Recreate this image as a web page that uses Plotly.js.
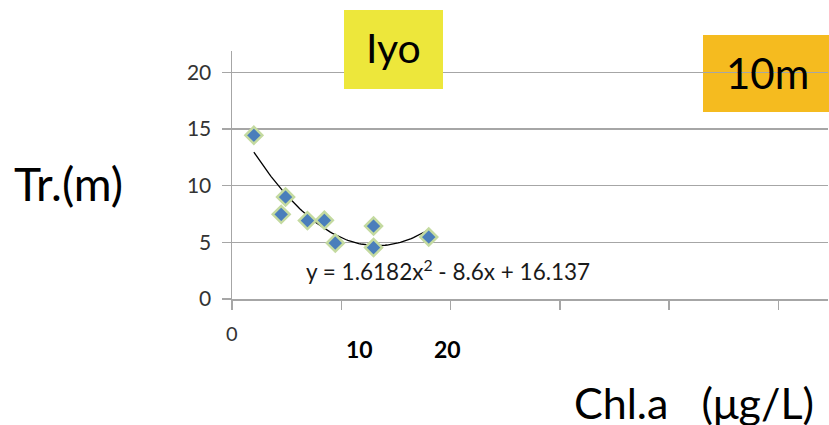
<!DOCTYPE html>
<html>
<head>
<meta charset="utf-8">
<script src="https://cdn.plot.ly/plotly-3.0.1.min.js"></script>
<style>html,body{margin:0;padding:0;background:#fff;}#chart{width:829px;height:425px;}</style>
</head>
<body>
<div id="chart"></div>
<script>
// Data
const chlX = [0.40, 0.90, 0.98, 1.38, 1.69, 1.89, 2.59, 2.59, 3.60];
const trY  = [14.45, 7.47, 9.0, 6.92, 6.95, 4.94, 6.44, 4.54, 5.47];
const trendCoef = [1.6182, -8.6, 16.137]; // y = a x^2 + b x + c
const trendRange = [0.40, 3.60];
const yTicks = [0, 5, 10, 15, 20];
const xTickVals = [0, 2, 4, 6, 8, 10];
const xLabels = ["0", "10", "20"];
const equationText = "y = 1.6182x<sup>2</sup> - 8.6x + 16.137";

// Trendline from the equation shown in the chart
const tx = [], ty = [];
const n = 80;
for (let i = 0; i <= n; i++) {
  const x = trendRange[0] + (trendRange[1] - trendRange[0]) * i / n;
  tx.push(x);
  ty.push(trendCoef[0] * x * x + trendCoef[1] * x + trendCoef[2]);
}

const traces = [
  {x: tx, y: ty, mode: 'lines', type: 'scatter', line: {color: '#000000', width: 1.3}, hoverinfo: 'skip'},
  {x: chlX, y: trY, mode: 'markers', type: 'scatter',
   marker: {symbol: 'diamond', size: 13, color: '#4a7ebb', line: {color: '#c4daa0', width: 2.5}}}
];

const F = 'Lato, Carlito, "Liberation Sans", sans-serif';
const layout = {
  width: 829, height: 425,
  margin: {l: 232, r: 1, t: 51, b: 126, pad: 0},
  paper_bgcolor: '#ffffff', plot_bgcolor: 'rgba(0,0,0,0)',
  showlegend: false,
  font: {family: F},
  xaxis: {range: [0, 10.906], tickvals: xTickVals, showticklabels: false,
    ticks: 'outside', ticklen: 9, tickcolor: '#a6a6a6', tickwidth: 1.5,
    showgrid: false, zeroline: false, showline: true, linecolor: '#a6a6a6', linewidth: 1.5},
  yaxis: {range: [0, 21.89], tickvals: yTicks, ticktext: yTicks.map(String),
    ticks: 'outside', ticklen: 9, tickcolor: '#a6a6a6', tickwidth: 1.5,
    ticklabelstandoff: 6,
    tickfont: {family: F, size: 21, color: '#333333'},
    showgrid: true, gridcolor: '#a6a6a6', gridwidth: 1.5, zeroline: false,
    showline: true, linecolor: '#a6a6a6', linewidth: 1.5},
  shapes: [
    {type: 'rect', xref: 'paper', yref: 'paper', layer: 'below',
     x0: (703-232)/596, x1: (829-232)/596, y0: (425-126-112)/248, y1: (425-126-35)/248,
     fillcolor: '#f5bb1f', line: {width: 0}},
    {type: 'rect', xref: 'paper', yref: 'paper', layer: 'above',
     x0: (344-232)/596, x1: (443-232)/596, y0: (425-126-89)/248, y1: (425-126-10)/248,
     fillcolor: '#ede73b', line: {width: 0}}
  ],
  annotations: [
    {text: 'Iyo', xref: 'paper', yref: 'paper', x: (393-232)/596, y: (299-47)/248,
     showarrow: false, xanchor: 'center', yanchor: 'middle', font: {family: F, size: 41, color: '#000'}},
    {text: '10m', xref: 'paper', yref: 'paper', x: (767-232)/596, y: (299-73)/248,
     showarrow: false, xanchor: 'center', yanchor: 'middle', font: {family: F, size: 42, color: '#000'}},
    {text: 'Tr.(m)', xref: 'paper', yref: 'paper', x: (12-232)/596, y: (299-183)/248,
     showarrow: false, xanchor: 'left', yanchor: 'middle', font: {family: F, size: 46, color: '#000'}},
    {text: 'Chl.a &nbsp; (μg/L)', xref: 'paper', yref: 'paper', x: (816-232)/596, y: (299-402)/248,
     showarrow: false, xanchor: 'right', yanchor: 'middle', font: {family: F, size: 43, color: '#000'}},
    {text: equationText, xref: 'paper', yref: 'paper', x: (304-232)/596, y: (299-270)/248,
     showarrow: false, xanchor: 'left', yanchor: 'middle', font: {family: F, size: 22.5, color: '#1a1a1a'}},
    {text: xLabels[0], xref: 'paper', yref: 'paper', x: 0, y: (299-333)/248,
     showarrow: false, xanchor: 'center', yanchor: 'middle', font: {family: F, size: 20, color: '#333333'}},
    {text: '<b>' + xLabels[1] + '</b>', xref: 'paper', yref: 'paper', x: (359-232)/596, y: (299-349)/248,
     showarrow: false, xanchor: 'center', yanchor: 'middle', font: {family: F, size: 23, color: '#000'}},
    {text: '<b>' + xLabels[2] + '</b>', xref: 'paper', yref: 'paper', x: (447-232)/596, y: (299-349)/248,
     showarrow: false, xanchor: 'center', yanchor: 'middle', font: {family: F, size: 23, color: '#000'}}
  ]
};

Plotly.newPlot('chart', traces, layout, {staticPlot: true, displayModeBar: false});
</script>
</body>
</html>
